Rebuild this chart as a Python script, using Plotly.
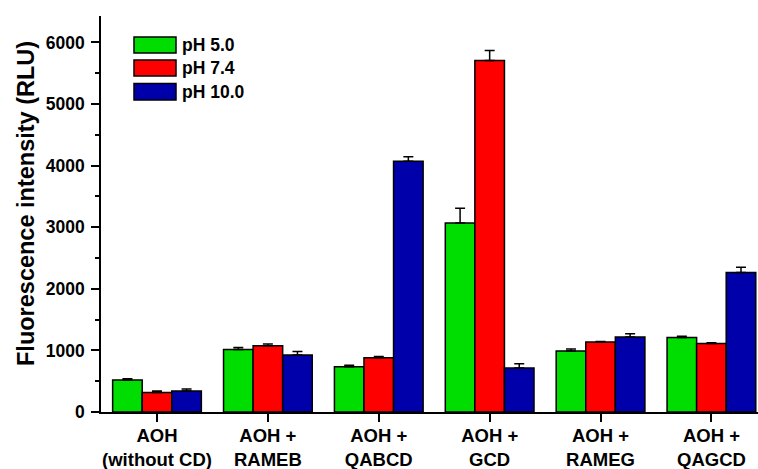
import plotly.graph_objects as go

categories = ["AOH<br>(without CD)", "AOH +<br>RAMEB", "AOH +<br>QABCD", "AOH +<br>GCD", "AOH +<br>RAMEG", "AOH +<br>QAGCD"]
series_names = ["pH 5.0", "pH 7.4", "pH 10.0"]
ph50 = [520, 1016, 735, 3070, 989, 1211]
ph74 = [315, 1075, 881, 5708, 1135, 1114]
ph100 = [340, 924, 4070, 713, 1216, 2265]
err50 = [20, 30, 25, 240, 35, 20]
err74 = [25, 30, 20, 160, 10, 10]
err100 = [35, 60, 75, 70, 55, 85]
colors = ["#00DD00", "#FF0000", "#0000AA"]
y_ticks = [0, 1000, 2000, 3000, 4000, 5000, 6000]

values = [ph50, ph74, ph100]
errors = [err50, err74, err100]
xidx = list(range(len(categories)))

fig = go.Figure()
for name, vals, errs, col in zip(series_names, values, errors, colors):
    fig.add_trace(go.Bar(
        x=xidx, y=vals, name=name, showlegend=False,
        marker=dict(color=col, line=dict(color="black", width=1.5)),
        error_y=dict(type="data", array=errs, arrayminus=[0]*len(errs), symmetric=False,
                     color="black", thickness=1.5, width=5),
    ))

font_family = "Arial, Liberation Sans, sans-serif"
W, H = 758, 469
ml, mr, mt, mb = 101, 0, 16, 57
pw, ph = W - ml - mr, H - mt - mb

def px(x):
    return (x - ml) / pw

def py(y):
    return (H - mb - y) / ph

# custom legend (boxes + labels)
legend_rows = [(37, 53), (60, 76), (83.5, 100)]
for (y0, y1), name, col in zip(legend_rows, series_names, colors):
    fig.add_shape(type="rect", xref="paper", yref="paper",
                  x0=px(134), x1=px(176), y0=py(y1), y1=py(y0),
                  fillcolor=col, line=dict(color="black", width=1.5))
    fig.add_annotation(xref="paper", yref="paper", x=px(180), y=py((y0 + y1) / 2),
                       text=name, showarrow=False, xanchor="left", yanchor="middle",
                       font=dict(family=font_family, size=17.5, color="black", weight="bold"))

# y-axis title
fig.add_annotation(xref="paper", yref="paper", x=px(26), y=py(204),
                   text="Fluorescence intensity (RLU)", showarrow=False, textangle=-90,
                   xanchor="center", yanchor="middle",
                   font=dict(family=font_family, size=23.5, color="black", weight="bold"))

fig.update_layout(
    width=W, height=H,
    margin=dict(l=ml, r=mr, t=mt, b=mb),
    plot_bgcolor="white", paper_bgcolor="white",
    barmode="group", bargap=0.2, bargroupgap=0,
    font=dict(family=font_family, color="black"),
    xaxis=dict(
        range=[-0.505, 5.42], tickmode="array", tickvals=xidx, ticktext=categories,
        automargin=False,
        showline=True, linecolor="black", linewidth=1.5, ticks="outside", ticklen=8,
        tickwidth=1.5, tickcolor="black", showgrid=False, zeroline=False,
        tickfont=dict(family=font_family, size=18.5, color="black", weight="bold"),
        ticklabelstandoff=-2,
    ),
    yaxis=dict(
        range=[0, 6430], tickmode="array", tickvals=y_ticks,
        automargin=False,
        showline=True, linecolor="black", linewidth=1.5, ticks="outside", ticklen=8,
        tickwidth=1.5, tickcolor="black", showgrid=False, zeroline=False,
        minor=dict(dtick=500, ticks="outside", ticklen=4, tickwidth=1.5, tickcolor="black", showgrid=False),
        tickfont=dict(family=font_family, size=17.5, color="black", weight="bold"),
        ticklabelstandoff=3,
    ),
)

fig.write_html("out.html", config={"displayModeBar": False},
               post_script="document.body.style.margin='0px';document.body.style.padding='0px';")
